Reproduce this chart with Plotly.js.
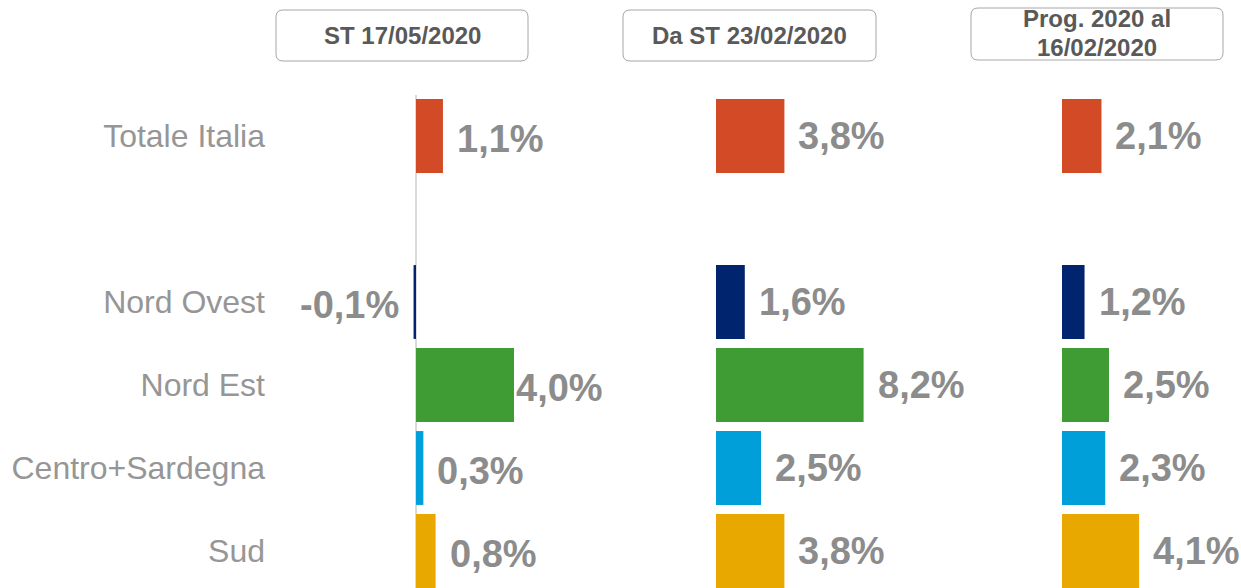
<!DOCTYPE html>
<html>
<head>
<meta charset="utf-8">
<script src="https://cdn.plot.ly/plotly-3.0.1.min.js"></script>
<style>
  html, body { margin: 0; padding: 0; background: #ffffff; }
  #chart { width: 1241px; height: 588px; }
</style>
</head>
<body>
<div id="chart"></div>
<script>
// ---- data ----
const categories = ['Totale Italia', ' ', 'Nord Ovest', 'Nord Est', 'Centro+Sardegna', 'Sud'];
const panelTitles = [['ST 17/05/2020'], ['Da ST 23/02/2020'], ['Prog. 2020 al', '16/02/2020']];
const weekValues = [1.1, null, -0.1, 4.0, 0.3, 0.8];
const sinceFebValues = [3.8, null, 1.6, 8.2, 2.5, 3.8];
const progValues = [2.1, null, 1.2, 2.5, 2.3, 4.1];
const barColors = ['#D34A27', '#ffffff', '#00256E', '#3F9C35', '#009FDA', '#E8A800'];

// ---- layout helpers (pixels -> paper) ----
const W = 1241, H = 588;
const px = x => x / W;
const py = y => 1 - y / H;
function roundedRect(x0, y0, x1, y1, r) {
  const rx = r / W, ry = r / H;
  const X0 = px(x0), X1 = px(x1), Y0 = py(y0), Y1 = py(y1);
  return `M ${X0 + rx},${Y0} L ${X1 - rx},${Y0} Q ${X1},${Y0} ${X1},${Y0 - ry} ` +
         `L ${X1},${Y1 + ry} Q ${X1},${Y1} ${X1 - rx},${Y1} ` +
         `L ${X0 + rx},${Y1} Q ${X0},${Y1} ${X0},${Y1 + ry} ` +
         `L ${X0},${Y0 - ry} Q ${X0},${Y0} ${X0 + rx},${Y0} Z`;
}

const FONT = 'Liberation Sans, Arial, sans-serif';
const series = [weekValues, sinceFebValues, progValues];
const axisIds = ['x', 'x2', 'x3'];

const traces = series.map((vals, i) => ({
  type: 'bar',
  orientation: 'h',
  x: vals,
  y: categories,
  xaxis: axisIds[i],
  yaxis: 'y',
  marker: { color: barColors, line: { width: 0 } },
  hoverinfo: 'skip',
  showlegend: false
}));

const fmt = v => v.toFixed(1).replace('.', ',') + '%';

const annotations = [];
series.forEach((vals, p) => {
  vals.forEach((v, k) => {
    if (v === null) return;
    let shift = v < 0 ? -13 : 12;
    if (p === 0 && k === 3) shift = 0;
    annotations.push({
      xref: axisIds[p], yref: 'y',
      x: v, y: categories[k],
      text: '<b>' + fmt(v) + '</b>',
      showarrow: false,
      xanchor: v < 0 ? 'right' : 'left',
      yanchor: 'middle',
      xshift: shift,
      yshift: p === 0 ? -3 : 0,
      font: { family: FONT, size: 38, color: '#8C8C8C' }
    });
  });
});

const boxes = [[276, 10, 528, 61], [623, 10, 876, 61], [971, 8, 1223, 60]];
const shapes = boxes.map(b => ({
  type: 'path', xref: 'paper', yref: 'paper',
  path: roundedRect(b[0], b[1], b[2], b[3], 7),
  line: { color: '#A6A6A6', width: 1 },
  fillcolor: 'rgba(0,0,0,0)'
}));
boxes.forEach((b, i) => {
  const lines = panelTitles[i];
  const cy = (b[1] + b[3]) / 2;
  const lh = 28;
  lines.forEach((t, j) => {
    const y = cy + (j - (lines.length - 1) / 2) * lh - (lines.length > 1 ? 1 : 0);
    annotations.push({
      xref: 'paper', yref: 'paper',
      x: px((b[0] + b[2]) / 2), y: py(y),
      text: '<b>' + t + '</b>',
      showarrow: false, xanchor: 'center', yanchor: 'middle',
      font: { family: FONT, size: 24, color: '#595959' }
    });
  });
});

const hiddenX = (domain, range, zero) => ({
  domain: domain, range: range, fixedrange: true,
  showgrid: false, showticklabels: false, ticks: '', showline: false,
  zeroline: zero, zerolinecolor: '#D9D9D9', zerolinewidth: 2,
  anchor: 'y'
});

const layout = {
  width: W, height: H,
  margin: { l: 0, r: 0, t: 0, b: 0 },
  paper_bgcolor: '#ffffff', plot_bgcolor: 'rgba(0,0,0,0)',
  bargap: 0.11,
  showlegend: false,
  hovermode: false,
  xaxis: hiddenX([px(300), px(610)], [(300 - 416) / 24.5, (610 - 416) / 24.5], true),
  xaxis2: hiddenX([px(700), px(1000)], [(700 - 716) / 18, (1000 - 716) / 18], false),
  xaxis3: hiddenX([px(1040), 1], [(1040 - 1062) / 18.8, (1241 - 1062) / 18.8], false),
  yaxis: {
    type: 'category',
    categoryorder: 'array', categoryarray: categories,
    range: [(588 - 136) / 83, (95 - 136) / 83],
    domain: [0, py(95)],
    anchor: 'free', position: px(265),
    showgrid: false, showline: false, zeroline: false, ticks: '',
    tickfont: { family: FONT, size: 32, color: '#969696' },
    fixedrange: true
  },
  shapes: shapes,
  annotations: annotations
};

Plotly.newPlot('chart', traces, layout, { staticPlot: true, displayModeBar: false });
</script>
</body>
</html>
